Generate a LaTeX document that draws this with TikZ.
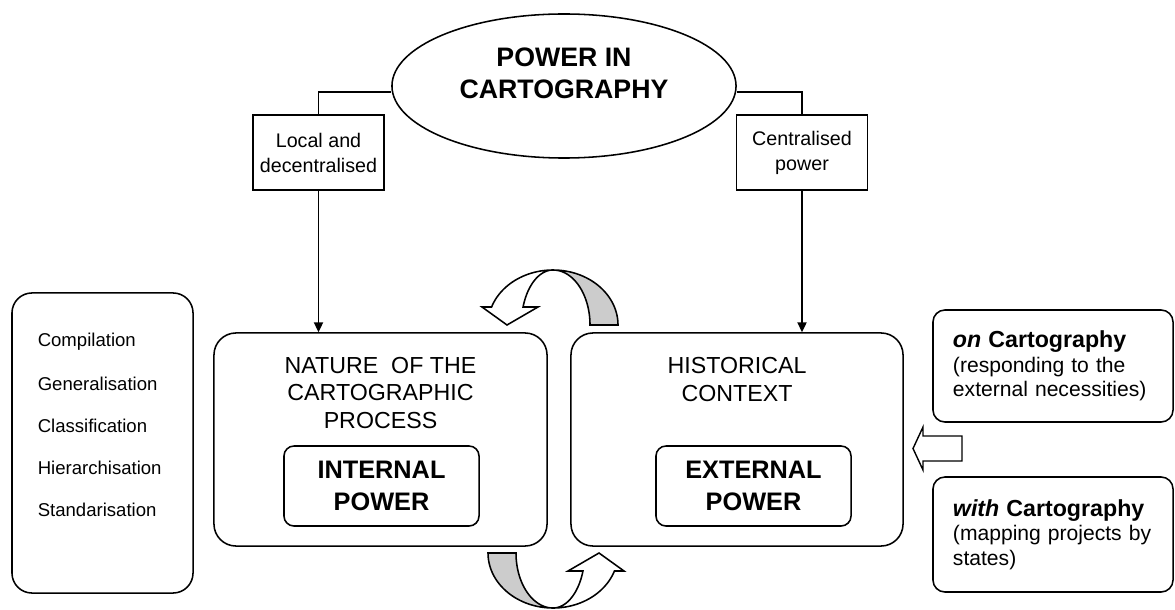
\documentclass[tikz,border=0pt]{standalone}
\usepackage{fontspec}
\setmainfont{Liberation Sans}
\usetikzlibrary{positioning,arrows.meta,calc,shapes.geometric}
\definecolor{backgrey}{RGB}{204,204,204}

% curved ribbon arrow, origin at the centre of its arc
\tikzset{
  swaparrow/.pic={
    \draw[fill=backgrey] plot[domain=0:90,samples=40] ({65*cos(\x)},{-55*sin(\x)})
      -- plot[domain=90:0,samples=40] ({37*cos(\x)},{-55*sin(\x)}) -- cycle;
    \draw[fill=white] plot[domain=90:160.9,samples=40] ({65*cos(\x)},{-55*sin(\x)})
      -- (-71,-18) -- (-46,0) -- (-15,-18)
      -- plot[domain=160.9:90,samples=40] ({31.7*cos(\x)},{-55*sin(\x)}) -- cycle;
  }
}

\begin{document}
\begin{tikzpicture}[
    x=0.025cm, y=-0.025cm, line width=1.1pt,
    >={Triangle[length=7pt,width=6.5pt]},
    branch/.style={draw, minimum width=3.275cm, minimum height=1.875cm, inner sep=0pt, align=center, font=\fontsize{14}{17.8}\selectfont},
    bigbox/.style={draw, rounded corners=0.55cm, minimum width=8.3cm, minimum height=5.325cm, inner sep=0pt},
    powerbox/.style={draw, rounded corners=0.25cm, minimum width=4.875cm, minimum height=2cm, inner sep=0pt, align=center, font=\fontsize{18}{22.8}\selectfont\bfseries},
    headtxt/.style={align=center, inner sep=0pt, font=\fontsize{16.5}{19.5}\selectfont},
    sidebox/.style={draw, rounded corners=0.3cm, text width=5cm, inner xsep=0.5cm, inner ysep=0pt, align=left, font=\fontsize{15}{17.5}\selectfont},
    stepitem/.style={anchor=west, inner sep=0pt, font=\fontsize{13.2}{16}\selectfont}
  ]
  \useasboundingbox (0,0) rectangle (1175,610);

  % top of the tree
  \node[ellipse, draw, minimum width=8.6cm, minimum height=3.6cm, inner sep=0pt] (ell) at (564,86) {};
  \node[align=center, inner sep=0pt, font=\fontsize{19}{22.8}\selectfont\bfseries] (ptitle) at (564,73) {POWER IN\\CARTOGRAPHY};
  \node[branch] (local) at (318.5,152.5) {Local and\\decentralised};
  \node[branch] (central) at (802,152.5) {Centralised\\power};

  % main boxes
  \node[bigbox, minimum width=8.325cm] (nat) at (380.5,439.5) {};
  \node[bigbox] (hist) at (737,439.5) {};
  \node[headtxt] (natlbl) at (380.5,393) {NATURE \ OF THE\\CARTOGRAPHIC\\PROCESS};
  \node[headtxt] (histlbl) at (737,379.5) {HISTORICAL\\CONTEXT};
  \node[powerbox] (intp) at (381.5,486) {INTERNAL\\POWER};
  \node[powerbox] (extp) at (753.5,486) {EXTERNAL\\POWER};

  % list of operations
  \node[draw, rounded corners=0.5cm, minimum width=4.525cm, minimum height=7.5cm, inner sep=0pt] (steps) at (102.5,443) {};
  \foreach \stage [count=\i from 0] in {Compilation,Generalisation,Classification,Hierarchisation,Standarisation}
    \node[stepitem] (step\i) at (37,{342+42*\i}) {\stage};

  % side boxes
  \node[sidebox, minimum height=2.8cm] (onbox) at (1053,366)
    {{\fontsize{16.5}{17.5}\selectfont\textbf{\textit{on} Cartography}}\\(responding to the\\external necessities)};
  \node[sidebox, minimum height=2.875cm] (withbox) at (1053,534.5)
    {{\fontsize{16.5}{17.5}\selectfont\textbf{\textit{with} Cartography}}\\(mapping projects by\\states)};

  % connectors
  \draw ([yshift=-0.15cm]ell.west) -| (local.north);
  \draw ([yshift=-0.15cm]ell.east) -| (central.north);
  \draw[->] (local.south) -- (local.south |- nat.north);
  \draw[->] (central.south) -- (central.south |- hist.north);

  % turning arrows between the boxes
  \pic at (553,325) {swaparrow};
  \pic[rotate=180] at (553,553) {swaparrow};

  % block arrow into the context box
  \draw[fill=white, line width=1pt] (962,436) -- (923,436) -- (923,427) -- (913,448.5)
    -- (923,470) -- (923,461) -- (962,461) -- cycle;
\end{tikzpicture}
\end{document}
